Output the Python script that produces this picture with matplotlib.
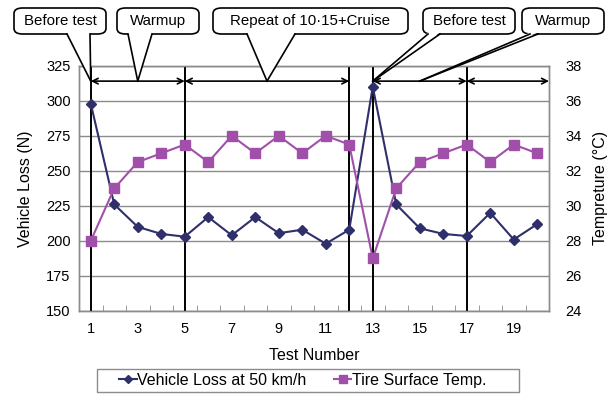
import numpy as np
import matplotlib.pyplot as plt
from matplotlib.patches import FancyBboxPatch, Polygon, Rectangle
from matplotlib.lines import Line2D

plt.rcParams['font.family'] = ['Liberation Sans', 'DejaVu Sans']

# Dados do ensaio
test_no = np.arange(1, 21)
vehicle_loss = [298, 226, 210, 205, 203, 217, 204, 217, 205.5, 208,
                198, 208, 310, 226, 209, 205, 203.5, 220, 201, 212]
tire_temp = [28, 31, 32.5, 33, 33.5, 32.5, 34, 33, 34, 33,
             34, 33.5, 27, 31, 32.5, 33, 33.5, 32.5, 33.5, 33]

# Fases do ensaio: limites e nível das setas
phase_lines = [1, 5, 12, 13, 17]
phase_spans = [(1, 5), (5, 12), (13, 17), (17, 20.5)]
arrow_level = 314

# Balões: texto, caixa (px), base do ponteiro (px), ponta (x do teste)
callouts = [
    ('Before test', (14, 8, 106, 34), (67, 90), 1),
    ('Warmup', (117, 8, 199, 34), (128, 152), 3),
    ('Repeat of 10\u00b715+Cruise', (213, 8, 408, 34), (247, 295), 8.5),
    ('Before test', (423, 8, 515, 34), (428, 440), 13),
    ('Warmup', (522, 8, 604, 34), (530, 538), 15),
]

navy = '#2f2f6b'
magenta = '#a050a8'
W, H = 612, 394

fig = plt.figure(figsize=(W / 100, H / 100), dpi=100)
ax = fig.add_axes([79 / W, (H - 311) / H, 470 / W, 245.3 / H])
ax2 = ax.twinx()

l1, = ax.plot(test_no, vehicle_loss, color=navy, lw=1.5, marker='D', ms=5.5,
              label='Vehicle Loss at 50 km/h', zorder=4)
l2, = ax2.plot(test_no, tire_temp, color=magenta, lw=1.5, marker='s', ms=7,
               label='Tire Surface Temp.', zorder=4)

ax.set_xlim(0.5, 20.5)
ax.set_ylim(150, 325)
ax2.set_ylim(24, 38)
ax.set_yticks(np.arange(150, 326, 25))
ax2.set_yticks(np.arange(24, 39, 2))
ax.set_xticks(np.arange(1, 21, 2))
ax.set_xticks(np.arange(1.5, 20.5, 1), minor=True)

ax.grid(axis='y', color='#8c8c8c', lw=1)
ax.set_axisbelow(True)
for a in (ax, ax2):
    for s in a.spines.values():
        s.set_color('#8c8c8c')
        s.set_linewidth(1)
ax.tick_params(axis='y', length=0, labelsize=10.5, pad=6)
ax2.tick_params(axis='y', length=0, labelsize=10.5, pad=12)
ax.tick_params(axis='x', which='major', length=0, labelsize=10.5, pad=8)
ax.tick_params(axis='x', which='minor', direction='in', length=4,
               color='#8c8c8c')

ax.set_xlabel('Test Number', fontsize=11.5)
ax.xaxis.set_label_coords(0.5, -0.15)
ax.set_ylabel('Vehicle Loss (N)', fontsize=11.5)
ax.yaxis.set_label_coords(-0.098, 0.5)
ax2.set_ylabel('Tempreture (\u00b0C)', fontsize=11.5)
ax2.yaxis.set_label_coords(1.094, 0.5)

# Linhas verticais das fases
for x in phase_lines:
    ax.axvline(x, color='black', lw=1.4, zorder=3)

# Setas duplas entre as fases
for x0, x1 in phase_spans:
    ax.annotate('', xy=(x1, arrow_level), xytext=(x0, arrow_level),
                arrowprops=dict(arrowstyle='<->', color='black', lw=1.2,
                                shrinkA=0, shrinkB=0, mutation_scale=10),
                annotation_clip=False, zorder=5)

# Balões de texto com ponteiro
def px(x, y):
    return (x / W, 1 - y / H)

fig.canvas.draw()
for text, (x0, y0, x1, y1), (b0, b1), tip_x in callouts:
    tx, ty = ax.transData.transform((tip_x, arrow_level))
    tip = (tx / W, ty / H)
    box = FancyBboxPatch(px(x0, y1), (x1 - x0) / W, (y1 - y0) / H,
                         boxstyle='round,pad=0,rounding_size=0.014',
                         transform=fig.transFigure, fc='white', ec='black',
                         lw=1.2, zorder=10)
    fig.add_artist(box)
    cover = Polygon([px(b0, y1 - 1.5), px(b1, y1 - 1.5), tip], closed=True,
                    transform=fig.transFigure, fc='white', ec='none', zorder=11)
    fig.add_artist(cover)
    for b in (b0, b1):
        p = px(b, y1)
        fig.add_artist(Line2D([p[0], tip[0]], [p[1], tip[1]],
                              transform=fig.transFigure, color='black',
                              lw=1.2, zorder=12))
    cx, cy = px((x0 + x1) / 2, (y0 + y1) / 2)
    fig.text(cx, cy, text, ha='center', va='center', fontsize=10.8, zorder=13)

# Legenda com moldura desenhada à parte
fig.add_artist(Rectangle(px(97, 392), 422 / W, 23 / H, transform=fig.transFigure,
                         fc='white', ec='#8c8c8c', lw=1))
leg = fig.legend(handles=[l1, l2], loc='center left',
                 bbox_to_anchor=px(119, 380.5), borderaxespad=0,
                 ncol=2, fontsize=11.5, frameon=False, borderpad=0,
                 handlelength=1.1, handletextpad=0.05, columnspacing=1.7,
                 markerscale=0.75)

fig.savefig('out.png', dpi=100)
